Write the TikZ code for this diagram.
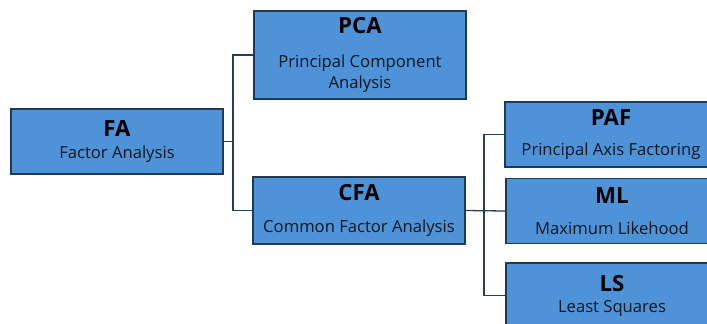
\documentclass[tikz,border=0pt]{standalone}
\usepackage{fontspec}
\setmainfont{Open Sans}
\usepackage{xcolor}
\usetikzlibrary{positioning}
\definecolor{boxblue}{HTML}{4E93D8}
\definecolor{boxedge}{HTML}{1E3856}
\definecolor{linkcol}{HTML}{233D5C}
\definecolor{subtext}{HTML}{0E1620}

\begin{document}
\begin{tikzpicture}[x=0.03cm, y=-0.03cm,
    methodbox/.style={draw=boxedge, line width=1.2pt, fill=boxblue,
      minimum width=6.36cm, inner sep=0pt, align=center,
      text=subtext, font=\fontsize{14.2}{18}\selectfont},
    link/.style={draw=linkcol, line width=1.1pt}]
  \useasboundingbox (0,0) rectangle (707,323);
  \clip (0,0) rectangle (707,323);

  %% one box per method: name/x/y/height/title/subtitle/gap
  \foreach \nm/\x/\y/\h/\ttl/\sub/\gap in {
      fa/117/141.5/1.95/FA/Factor Analysis/0pt,
      pca/360/55/2.64/PCA/{Principal Component\\Analysis}/11pt,
      cfa/359/210.5/2.01/CFA/Common Factor Analysis/9pt,
      paf/611/134.5/1.95/PAF/Principal Axis Factoring/8pt,
      ml/612/211/1.95/ML/Maximum Likehood/8.5pt,
      ls/612/295.5/1.95/LS/Least Squares/0pt} {
    \node[methodbox, minimum height=\h cm] (\nm) at (\x,\y)
      {{\color{black}\fontsize{19}{19}\selectfont\bfseries \ttl}\\[\gap]\sub};
  }

  %% elbow connectors
  \coordinate (fork1) at (233,141.5);
  \coordinate (fork2) at (484,211);
  \draw[link] (fa.east) -- (fork1);
  \draw[link] (pca.west) -| (fork1) |- (cfa.west);
  \draw[link] (cfa.east) -- (ml.west);
  \draw[link] (paf.west) -| (fork2) |- (ls.west);
\end{tikzpicture}
\end{document}
